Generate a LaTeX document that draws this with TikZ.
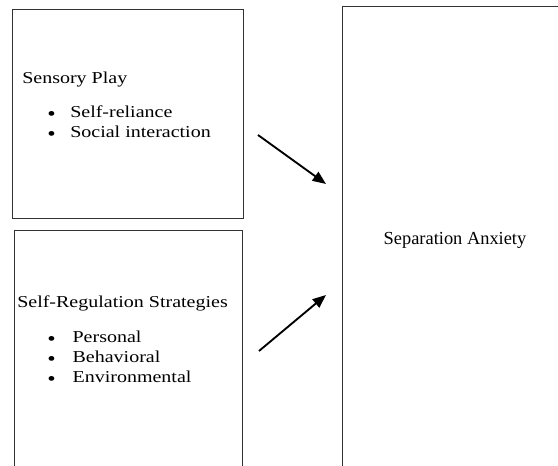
\documentclass[tikz,border=0pt]{standalone}
\usepackage{fontspec}
\setmainfont{Liberation Serif}
\newfontfamily\widefont[FakeStretch=1.2]{Liberation Serif}
\usetikzlibrary{positioning}
\usetikzlibrary{arrows.meta}

\newcommand{\bigbullet}{\raisebox{-2.2pt}[0pt][0pt]{\fontsize{15}{15}\selectfont\textbullet}}

\tikzset{
  block/.style={draw=black!80, line width=0.7pt, anchor=north west, inner sep=0pt},
  boxtext/.style={inner sep=0pt, anchor=base west, font=\widefont\fontsize{12.5}{15}\selectfont},
  causal/.style={-{Triangle[length=10pt,width=8pt]}, line width=1.4pt}
}

\begin{document}
\begin{tikzpicture}[x=0.75pt, y=-0.75pt]
    \useasboundingbox (0,0) rectangle (558,466);
    \clip (0,0) rectangle (558,466);

        % Define nodes
        \node[block, minimum width=173pt, minimum height=157pt] (play)    at (12,9)  {};
        \node[block, minimum width=171pt, minimum height=190pt] (selfreg) at (14,230) {};
        \node[block, minimum width=200pt, minimum height=360pt] (anxiety) at (342,6)  {};

        \node[boxtext] (playtitle) at (22,84) {Sensory Play};
        \node[boxtext] (playlist)  at (47,118) {\begin{tabular}[t]{@{}l@{}}
            \makebox[17.25pt][l]{\bigbullet}Self-reliance\\
            \makebox[17.25pt][l]{\bigbullet}Social interaction
          \end{tabular}};

        \node[boxtext] (regtitle) at (17,308) {Self-Regulation Strategies};
        \node[boxtext] (reglist)  at (47,343) {\begin{tabular}[t]{@{}l@{}}
            \makebox[19pt][l]{\bigbullet}Personal\\
            \makebox[19pt][l]{\bigbullet}Behavioral\\
            \makebox[19pt][l]{\bigbullet}Environmental
          \end{tabular}};

        \node[boxtext, anchor=base, font=\fontsize{13.8}{15}\selectfont] (anxtitle) at (455,245) {Separation Anxiety};

        % Connect the nodes
        \coordinate (playout) at (258,135);
        \coordinate (playin)  at (326,184);
        \coordinate (regout)  at (259,351);
        \coordinate (regin)   at (326,295);
        \draw[causal] (playout) -- (playin);
        \draw[causal] (regout) -- (regin);

\end{tikzpicture}
\end{document}
